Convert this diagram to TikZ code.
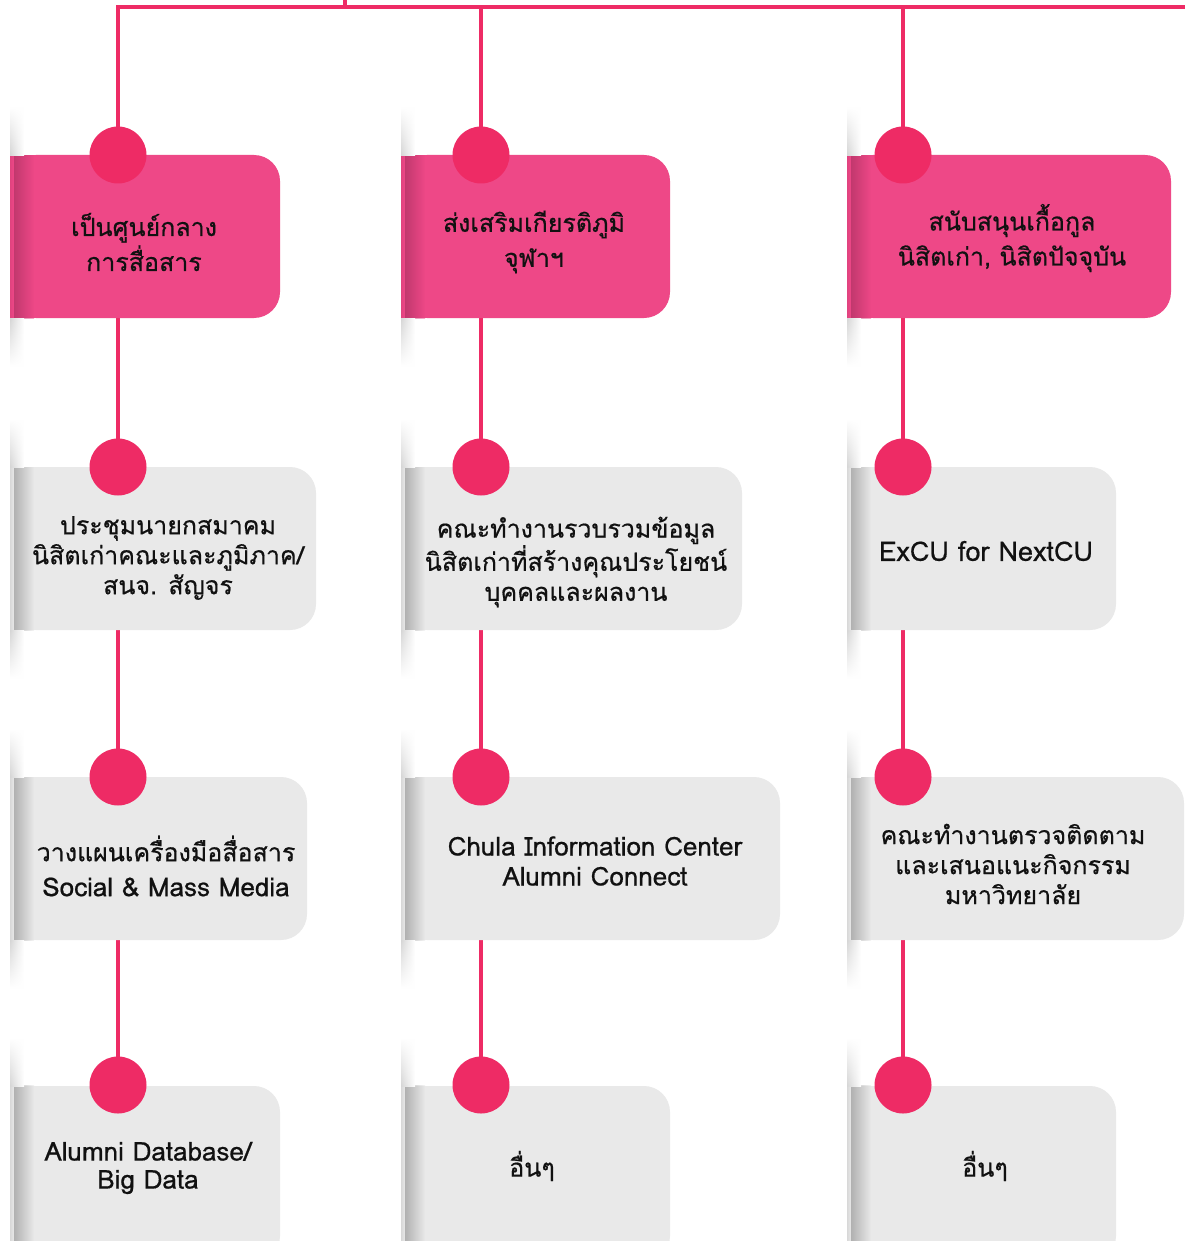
\documentclass[tikz,border=0pt]{standalone}
\usepackage{fontspec}
\newfontfamily\thai[Script=Thai,FakeBold=0.6]{Loma}
\usetikzlibrary{fadings}
\definecolor{lineC}{RGB}{238,43,101}
\definecolor{pinkC}{RGB}{238,72,135}
\definecolor{grayC}{RGB}{233,233,233}
\definecolor{pinkD}{RGB}{140,38,80}
\definecolor{grayD}{RGB}{110,110,110}
\definecolor{txtC}{RGB}{17,17,17}
\tikzfading[name=vfade, top color=transparent!55, middle color=transparent!0, bottom color=transparent!55]
\pgfdeclarelayer{bg}\pgfdeclarelayer{mid}\pgfsetlayers{bg,mid,main}
\newcommand\panelbox[6]{%
  \fill[#5, rounded corners=26pt] (#1,#2) rectangle (#3,#4);
  \fill[#5] (#1,#2) rectangle (#1+40,#4);
  \shade[left color=#5!70!#6, right color=#5, path fading=vfade] (#1,#2) rectangle (#1+4,#4);
  \shade[left color=#6, right color=#5, path fading=vfade] (#1+4,#2) rectangle (#1+24,#4);
  \shade[left color=black!16, right color=white, path fading=north] (#1,#2-48) rectangle (#1+14,#2);
  \shade[left color=black!16, right color=white, path fading=south] (#1,#4) rectangle (#1+14,#4+48);
}
\tikzset{
  dot/.style={circle, fill=lineC, minimum size=57pt, inner sep=0pt},
  conn/.style={draw=lineC, line width=4pt},
  lbl/.style={font=\thai\fontsize{25}{30}\selectfont, text=txtC, align=center, inner sep=0pt},
}
\begin{document}
\begin{tikzpicture}[x=1pt, y=-1pt]
\clip (0,0) rectangle (1184,1241);
% circles
\node[dot] (a1) at (118,155) {};
\node[dot] (a2) at (118,467) {};
\node[dot] (a3) at (118,777) {};
\node[dot] (a4) at (118,1085) {};
\node[dot] (b1) at (481,155) {};
\node[dot] (b2) at (481,467) {};
\node[dot] (b3) at (481,777) {};
\node[dot] (b4) at (481,1085) {};
\node[dot] (c1) at (903,155) {};
\node[dot] (c2) at (903,467) {};
\node[dot] (c3) at (903,777) {};
\node[dot] (c4) at (903,1085) {};
\coordinate (edgeR) at (1192,7);
\coordinate (stub) at (345,-6);
\begin{pgfonlayer}{bg}
  \fill[white] (0,0) rectangle (1184,1241);
  \draw[conn] (a1.center) |- (edgeR);
  \draw[conn] (b1.center) -- (b1 |- edgeR);
  \draw[conn] (c1.center) -- (c1 |- edgeR);
  \draw[conn] (stub) -- (stub |- edgeR);
  \foreach \c in {a,b,c}{
    \draw[conn] (\c1.center) -- (\c2.center);
    \draw[conn] (\c2.center) -- (\c3.center);
    \draw[conn] (\c3.center) -- (\c4.center);
  }
\end{pgfonlayer}
\begin{pgfonlayer}{mid}
  \panelbox{10}{155}{280}{318}{pinkC}{pinkD}
  \panelbox{401}{155}{670}{318}{pinkC}{pinkD}
  \panelbox{847}{155}{1171}{318}{pinkC}{pinkD}
  \panelbox{10}{467}{316}{630}{grayC}{grayD}
  \panelbox{401}{467}{742}{630}{grayC}{grayD}
  \panelbox{847}{467}{1116}{630}{grayC}{grayD}
  \panelbox{10}{777}{307}{940}{grayC}{grayD}
  \panelbox{401}{777}{780}{940}{grayC}{grayD}
  \panelbox{847}{777}{1184}{940}{grayC}{grayD}
  \panelbox{10}{1086}{280}{1262}{grayC}{grayD}
  \panelbox{401}{1086}{670}{1262}{grayC}{grayD}
  \panelbox{847}{1086}{1116}{1262}{grayC}{grayD}
\end{pgfonlayer}
% labels
\node[lbl, font=\thai\fontsize{25}{35}\selectfont] (t11) at (144,242) {เป็นศูนย์กลาง\\การสื่อสาร};
\node[lbl, font=\thai\fontsize{25}{35}\selectfont] (t12) at (534,242) {ส่งเสริมเกียรติภูมิ\\จุฬาฯ};
\node[lbl, font=\thai\fontsize{25}{35}\selectfont] (t13) at (1012,238) {สนับสนุนเกื้อกูล\\นิสิตเก่า, นิสิตปัจจุบัน};
\node[lbl] (t21) at (168,558) {ประชุมนายกสมาคม\\นิสิตเก่าคณะและภูมิภาค/\\สนจ. สัญจร};
\node[lbl] (t22) at (576,562) {คณะทำงานรวบรวมข้อมูล\\นิสิตเก่าที่สร้างคุณประโยชน์\\บุคคลและผลงาน};
\node[lbl, font=\thai\fontsize{27}{30}\selectfont] (t23) at (986,551) {ExCU for NextCU};
\node[lbl, font=\thai\fontsize{25}{35}\selectfont] (t31) at (166,866) {วางแผนเครื่องมือสื่อสาร\\{\fontsize{26}{35}\selectfont Social \& Mass Media}};
\node[lbl, font=\thai\fontsize{26}{30}\selectfont] (t32) at (595,861) {Chula Information Center\\Alumni Connect};
\node[lbl] (t33) at (1013,864) {คณะทำงานตรวจติดตาม\\และเสนอแนะกิจกรรม\\มหาวิทยาลัย};
\node[lbl, font=\thai\fontsize{26}{28}\selectfont] (t41) at (148,1168) {Alumni Database/\\Big Data};
\node[lbl] (t42) at (532,1166) {อื่นๆ};
\node[lbl] (t43) at (985,1166) {อื่นๆ};
\end{tikzpicture}
\end{document}
